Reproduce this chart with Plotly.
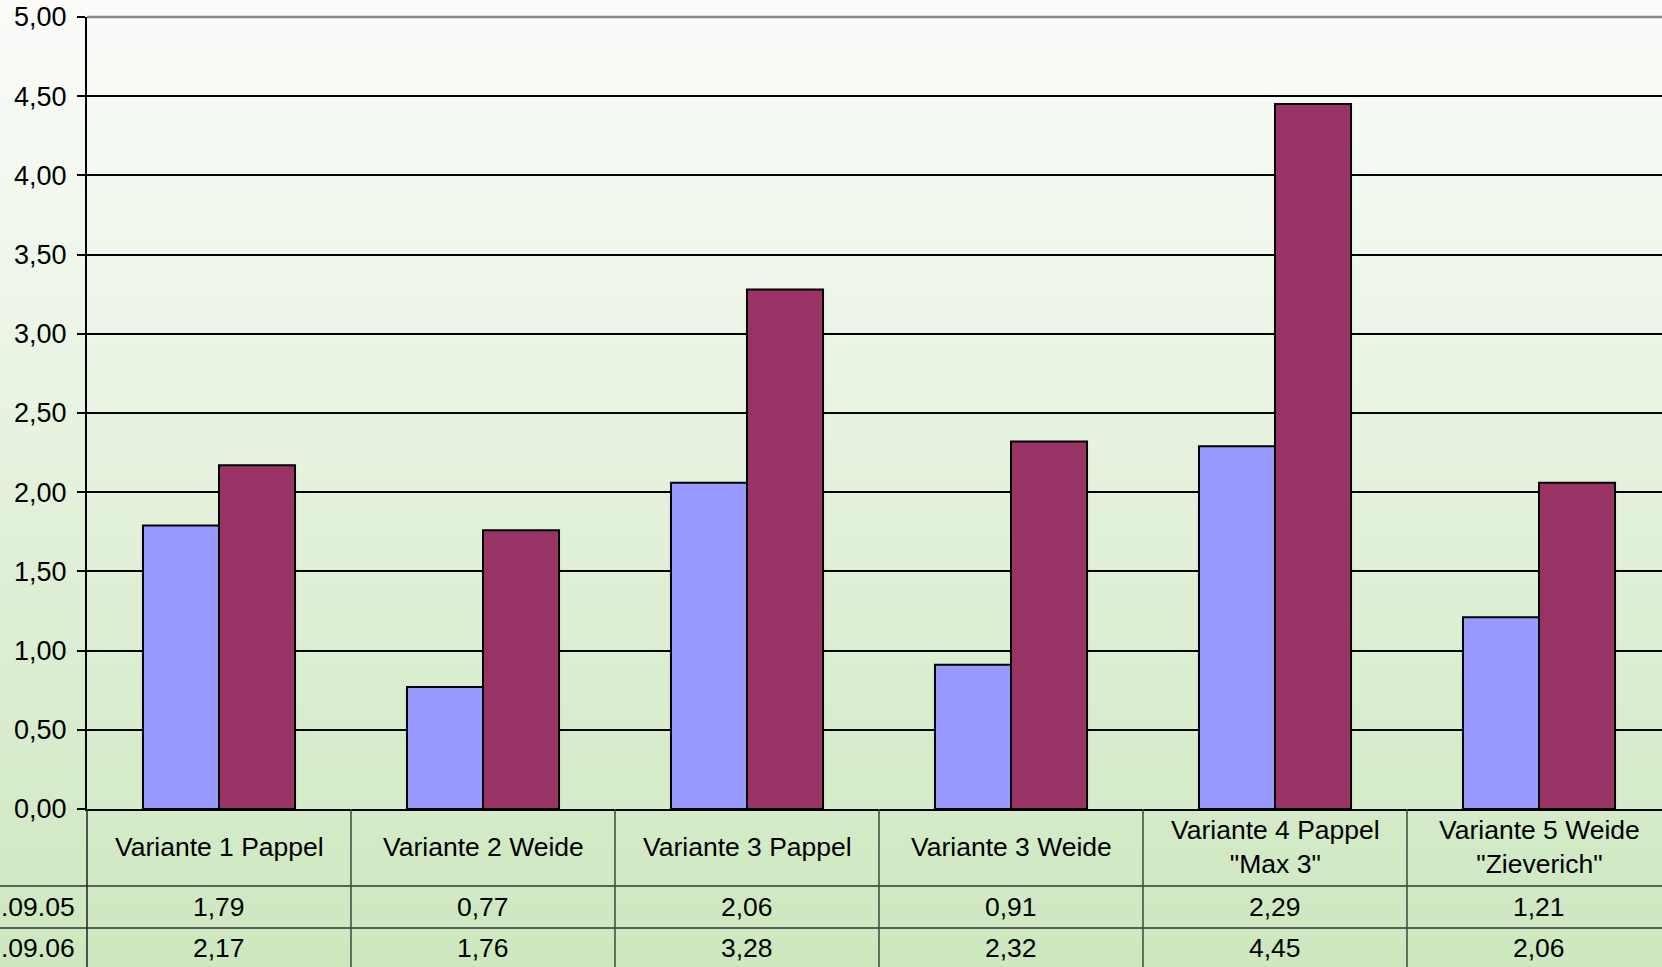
import plotly.graph_objects as go

categories = ["Variante 1 Pappel", "Variante 2 Weide", "Variante 3 Pappel",
              "Variante 3 Weide", "Variante 4 Pappel<br>\"Max 3\"",
              "Variante 5 Weide<br>\"Zieverich\""]
series_names = [".09.05", ".09.06"]
values_05 = [1.79, 0.77, 2.06, 0.91, 2.29, 1.21]
values_06 = [2.17, 1.76, 3.28, 2.32, 4.45, 2.06]
y_ticks = [0, 0.5, 1, 1.5, 2, 2.5, 3, 3.5, 4, 4.5, 5]

W, H = 1662, 967
L, T, B = 87, 17, 809          # plot area pixel edges
CAT_W = 264                    # px per category
FONT = "Liberation Sans, Arial, sans-serif"
FS = 26.5

def py(ypx):
    return (B - ypx) / (B - T)

def px(xpx):
    return (xpx - L) / (W - L)

fig = go.Figure()
xs = list(range(len(categories)))
fig.add_trace(go.Bar(x=xs, y=values_05, name=series_names[0],
                     marker=dict(color="#9999ff", line=dict(color="black", width=2))))
fig.add_trace(go.Bar(x=xs, y=values_06, name=series_names[1],
                     marker=dict(color="#993366", line=dict(color="black", width=2))))

shapes = []
# background gradient
N = 120
top = (251, 252, 250)
bot = (205, 231, 191)
for i in range(N):
    f = i / (N - 1)
    c = tuple(round(top[k] + (bot[k] - top[k]) * f) for k in range(3))
    y0 = i * H / N
    y1 = (i + 1) * H / N + 1
    shapes.append(dict(type="rect", xref="paper", yref="paper",
                       x0=px(0), x1=px(W), y0=py(y1), y1=py(y0),
                       fillcolor="rgb(%d,%d,%d)" % c, line=dict(width=0), layer="below"))
# top border of plot area (gray)
shapes.append(dict(type="line", xref="paper", yref="paper", x0=0, x1=1, y0=1, y1=1,
                   line=dict(color="#888888", width=2.5)))
# table horizontal lines
for ypx in (886, 928):
    shapes.append(dict(type="line", xref="paper", yref="paper", x0=px(0), x1=1,
                       y0=py(ypx), y1=py(ypx), line=dict(color="#333333", width=1.5)))
# table vertical lines
for k in range(len(categories)):
    xb = k + 0.5
    shapes.append(dict(type="line", xref="x", yref="paper", x0=xb, x1=xb,
                       y0=py(809), y1=py(H + 5), line=dict(color="#3a4a3a", width=1.5)))
shapes.append(dict(type="line", xref="paper", yref="paper", x0=0, x1=0,
                   y0=py(809), y1=py(H + 5), line=dict(color="#222222", width=1.5)))

annotations = []
for i, cat in enumerate(categories):
    annotations.append(dict(x=i, y=py(847), xref="x", yref="paper", text=cat,
                            showarrow=False, xanchor="center", yanchor="middle",
                            font=dict(family=FONT, size=FS, color="black")))
    annotations.append(dict(x=i, y=py(907), xref="x", yref="paper",
                            text=f"{values_05[i]:.2f}".replace(".", ","),
                            showarrow=False, xanchor="center", yanchor="middle",
                            font=dict(family=FONT, size=FS, color="black")))
    annotations.append(dict(x=i, y=py(948), xref="x", yref="paper",
                            text=f"{values_06[i]:.2f}".replace(".", ","),
                            showarrow=False, xanchor="center", yanchor="middle",
                            font=dict(family=FONT, size=FS, color="black")))
for name, ypx in zip(series_names, (907, 948)):
    annotations.append(dict(x=px(77), y=py(ypx), xref="paper", yref="paper", text=name,
                            showarrow=False, xanchor="right", yanchor="middle",
                            font=dict(family=FONT, size=FS, color="black")))

fig.update_layout(
    width=W, height=H,
    margin=dict(l=L, r=0, t=T, b=H - B, pad=0),
    paper_bgcolor="white", plot_bgcolor="rgba(0,0,0,0)",
    separators=",.",
    barmode="group", bargap=0.424, bargroupgap=0,
    showlegend=False,
    font=dict(family=FONT, size=FS, color="black"),
    shapes=shapes, annotations=annotations,
    xaxis=dict(range=[-0.5, -0.5 + (W - L) / CAT_W], showticklabels=False,
               showgrid=False, zeroline=False, showline=True, linecolor="black",
               linewidth=2, ticks=""),
    yaxis=dict(range=[0, 5], tickvals=y_ticks, tickformat=".2f",
               showgrid=True, gridcolor="black", gridwidth=1.5,
               zeroline=False, showline=True, linecolor="black", linewidth=2,
               ticks="outside", ticklen=8, tickcolor="black", tickwidth=1.5,
               ticklabelstandoff=5,
               tickfont=dict(family=FONT, size=27, color="black")),
)

fig.write_html("out.html", config={"displayModeBar": False},
               post_script="document.body.style.margin='0';document.body.style.overflow='hidden';")
